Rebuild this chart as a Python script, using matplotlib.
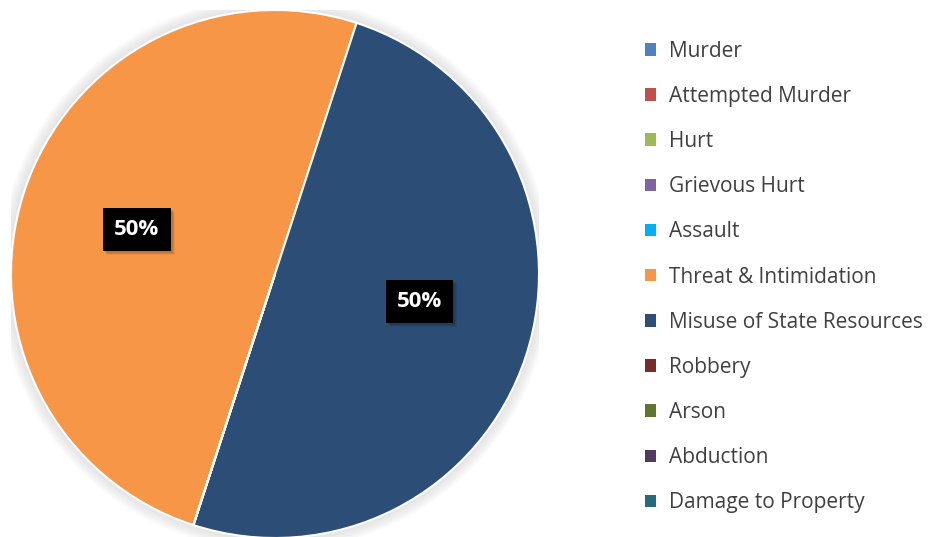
import matplotlib.pyplot as plt
from matplotlib.patches import Circle, Rectangle
from matplotlib.transforms import IdentityTransform

categories = ["Murder", "Attempted Murder", "Hurt", "Grievous Hurt", "Assault",
              "Threat & Intimidation", "Misuse of State Resources", "Robbery",
              "Arson", "Abduction", "Damage to Property"]
values = [0, 0, 0, 0, 0, 1, 1, 0, 0, 0, 0]
colors = ["#4F81BD", "#C0504D", "#9BBB59", "#8064A2", "#00B0F0", "#F79646",
          "#2C4D75", "#772C2A", "#5F7530", "#4D3B62", "#276A7C"]

plt.rcParams['font.family'] = ['Open Sans', 'DejaVu Sans']

fig = plt.figure(figsize=(9.3, 5.37), dpi=100)
ax = fig.add_axes([11 / 930, -1 / 537, 528 / 930, 528 / 537])

# soft shadow round the pie
for i in range(8):
    ax.add_patch(Circle((0, 0), 1.0 + 0.006 * (i + 1), color="#bfbfbf",
                        alpha=0.06, lw=0, zorder=0))

wedges, texts, autotexts = ax.pie(
    values, colors=colors, startangle=252, counterclock=False,
    autopct=lambda p: f"{p:.0f}%" if p > 0 else "", pctdistance=0.55,
    wedgeprops={"edgecolor": "white", "linewidth": 1.5})

# Excel put the second label a bit off the middle of its slice
x, y = autotexts[6].get_position()
autotexts[6].set_position((x + 0.025, y + 0.065))

labels = [t for t in autotexts if t.get_text()]
for t in labels:
    t.set_fontsize(16)
    t.set_fontweight("bold")
    t.set_color("white")
    t.set_bbox(dict(boxstyle="square,pad=0.5", fc="black", ec="none"))
    t.set_zorder(5)

ax.set_xlim(-1, 1)
ax.set_ylim(-1, 1)
ax.set_aspect("equal")
ax.axis("off")

# shadow box under each label
fig.canvas.draw()
for t in labels:
    bb = t.get_bbox_patch().get_window_extent()
    for k, a in enumerate([0.10, 0.08, 0.06]):
        d = 2 + k
        r = Rectangle((bb.x0 + d, bb.y0 - d), bb.width, bb.height,
                      transform=IdentityTransform(), fc="black", ec="none",
                      alpha=a, zorder=4)
        ax.add_artist(r)

leg = fig.legend(wedges, categories, loc="center left",
                 bbox_to_anchor=(645 / 930, 0.484), frameon=False,
                 fontsize=15, handlelength=0.55, handleheight=0.55,
                 handletextpad=0.6, labelspacing=1.16, borderpad=0,
                 borderaxespad=0)
for txt in leg.get_texts():
    txt.set_color("#404040")
for h in leg.legend_handles:
    h.set_edgecolor("none")

plt.savefig("out.png", dpi=100)
